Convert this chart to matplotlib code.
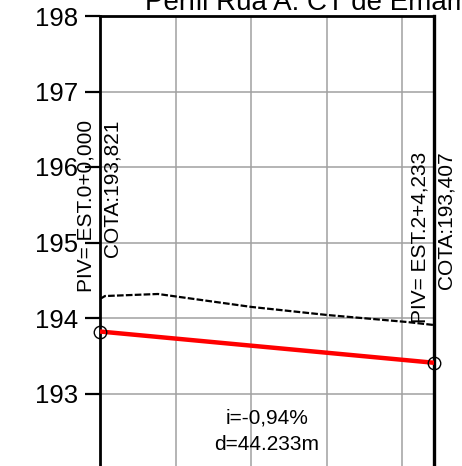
import numpy as np
import matplotlib
matplotlib.use("Agg")
import matplotlib.pyplot as plt

plt.rcParams['font.family'] = ['Liberation Sans', 'DejaVu Sans']

# ── Data ────────────────────────────────────────────────────────────────
title = "Perfil Rua A: CT de Emamb"
dist_total = 44.233
piv_x = [0.0, 44.233]
piv_cota = [193.821, 193.407]
piv_est = ["EST.0+0,000", "EST.2+4,233"]

terreno_x = [0.0, 0.66, 7.68, 20.1, 30.06, 40.66, 44.233]
terreno_y = [194.252, 194.291, 194.318, 194.146, 194.040, 193.947, 193.907]

inclinacao = "-0,94"
y_ticks = [193, 194, 195, 196, 197, 198]
x_grid = [0, 10, 20, 30, 40]

# ── Figure ──────────────────────────────────────────────────────────────
W, H = 462, 466
fig = plt.figure(figsize=(W / 100, H / 100), dpi=100)
ax = fig.add_axes([100 / W, 0, 334 / W, 1 - 16 / H])

ax.set_xlim(0, dist_total)
ax.set_ylim(198 - 450 / 75.5, 198)

# grid
ax.set_xticks(x_grid)
ax.set_yticks(y_ticks)
ax.grid(True, color="#a0a0a0", linewidth=1.1)
ax.set_axisbelow(True)
ax.tick_params(axis="x", bottom=False, labelbottom=False)
ax.tick_params(axis="y", direction="out", length=11, width=1.6,
               labelsize=18.5, pad=5)

for side in ["left", "top", "right"]:
    ax.spines[side].set_linewidth(2)
    ax.spines[side].set_color("black")
ax.spines["bottom"].set_visible(False)
ax.spines["right"].set_linewidth(2.4)

# terreno (dashed black)
ax.plot(terreno_x, terreno_y, color="black", linewidth=1.6,
        linestyle=(0, (3, 1)))

# greide (red)
ax.plot(piv_x, piv_cota, color="red", linewidth=3.2, solid_capstyle="butt",
        zorder=3)
ax.plot(piv_x, piv_cota, linestyle="none", marker="o", markersize=9,
        markerfacecolor="none", markeredgecolor="black",
        markeredgewidth=1.0, zorder=4, clip_on=False)

# PIV labels
for x, c, est in zip(piv_x, piv_cota, piv_est):
    ax.text(x - 1.8, c + 2.8, f"PIV= {est}", rotation=90, ha="center",
            va="top", fontsize=15, clip_on=False)
    ax.text(x + 1.6, c + 2.8, f"COTA:{c:.3f}".replace(".", ","),
            rotation=90, ha="center", va="top", fontsize=15, clip_on=False)

# slope / distance
ax.text(dist_total / 2, 192.675, f"i={inclinacao}%", ha="center",
        va="center", fontsize=15)
ax.text(dist_total / 2, 192.318, f"d={dist_total:.3f}m", ha="center",
        va="center", fontsize=15)

# title is cut by the top edge in the reference too
fig.text(145 / W, 1 - 10 / H, title, ha="left", va="baseline", fontsize=20)

fig.savefig("out.png", dpi=100)
